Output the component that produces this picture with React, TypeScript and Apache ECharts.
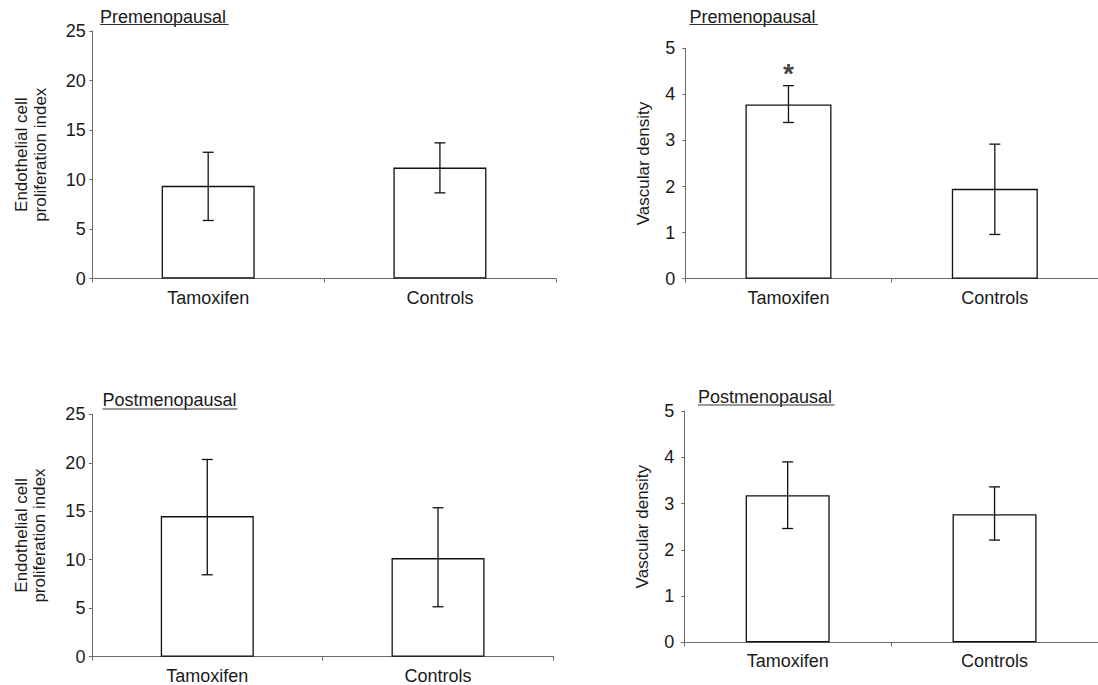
import React, { useEffect, useRef } from "react";
import * as echarts from "echarts";

// ---- data ----
const categories = ["Tamoxifen", "Controls"];

const preProlifMean = [9.36, 11.2];
const preProlifLow = [5.86, 8.65];
const preProlifHigh = [12.75, 13.7];

const preVascMean = [3.78, 1.95];
const preVascLow = [3.39, 0.96];
const preVascHigh = [4.19, 2.92];

const postProlifMean = [14.5, 10.17];
const postProlifLow = [8.45, 5.15];
const postProlifHigh = [20.34, 15.36];

const postVascMean = [3.18, 2.77];
const postVascLow = [2.46, 2.21];
const postVascHigh = [3.9, 3.36];

const preVascSignificance = ["*", ""];

const prolifTicks = { min: 0, max: 25, interval: 5 };
const vascTicks = { min: 0, max: 5, interval: 1 };

const prolifName = "Endothelial cell\nproliferation index";
const vascName = "Vascular density";
const preTitle = "Premenopausal";
const postTitle = "Postmenopausal";

const FONT = '"Liberation Sans", Arial, Helvetica, sans-serif';
const TEXT = "#1a1a1a";
const AXIS = "#6a6a6a";

const errorRender = (params: any, api: any) => {
  const x = api.value(0);
  const lo = api.coord([x, api.value(1)]);
  const hi = api.coord([x, api.value(2)]);
  const hw = 5.5;
  const st = { stroke: "#111", lineWidth: 1.3 };
  return {
    type: "group",
    children: [
      { type: "line", shape: { x1: lo[0], y1: lo[1], x2: hi[0], y2: hi[1] }, style: st },
      { type: "line", shape: { x1: lo[0] - hw, y1: lo[1], x2: lo[0] + hw, y2: lo[1] }, style: st },
      { type: "line", shape: { x1: hi[0] - hw, y1: hi[1], x2: hi[0] + hw, y2: hi[1] }, style: st },
    ],
  };
};

export default function App() {
  const ref = useRef<HTMLDivElement>(null);
  useEffect(() => {
    if (!ref.current) return;
    const chart = echarts.init(ref.current, null, { renderer: "svg" });

    const grids = [
      { left: 92.3, top: 31, width: 463.5, height: 247.5 },
      { left: 685.3, top: 48.3, width: 430, height: 230.4 },
      { left: 91.9, top: 414.3, width: 461.5, height: 242.4 },
      { left: 684.2, top: 411, width: 422, height: 231.3 },
    ];
    const barWidths = [93, 86, 93, 84];
    const nameGaps = [43, 33, 43, 32];
    const labelMargins = [6.5, 10, 6.5, 10];
    const names = [prolifName, vascName, prolifName, vascName];
    const ticks = [prolifTicks, vascTicks, prolifTicks, vascTicks];
    const means = [preProlifMean, preVascMean, postProlifMean, postVascMean];
    const lows = [preProlifLow, preVascLow, postProlifLow, postVascLow];
    const highs = [preProlifHigh, preVascHigh, postProlifHigh, postVascHigh];

    const xAxis = grids.map((_, i) => ({
      type: "category",
      gridIndex: i,
      data: categories,
      axisLine: { lineStyle: { color: AXIS, width: 1 } },
      axisTick: { show: true, length: 4, lineStyle: { color: AXIS } },
      axisLabel: { margin: 10, fontSize: 18, fontFamily: FONT, color: TEXT },
    }));
    const yAxis = grids.map((_, i) => ({
      type: "value",
      gridIndex: i,
      min: ticks[i].min,
      max: ticks[i].max,
      interval: ticks[i].interval,
      name: names[i],
      nameLocation: "middle",
      nameRotate: 90,
      nameGap: nameGaps[i],
      nameTextStyle: { fontSize: 17, fontFamily: FONT, color: TEXT, lineHeight: 18.5 },
      splitLine: { show: false },
      axisLine: { show: true, lineStyle: { color: AXIS, width: 1 } },
      axisTick: { show: true, length: 3, lineStyle: { color: AXIS } },
      axisLabel: { margin: labelMargins[i], fontSize: 18, fontFamily: FONT, color: TEXT },
    }));

    const series: any[] = [];
    grids.forEach((_, i) => {
      series.push({
        type: "bar",
        xAxisIndex: i,
        yAxisIndex: i,
        data: means[i],
        barWidth: barWidths[i],
        itemStyle: { color: "#fff", borderColor: "#111", borderWidth: 1.3 },
      });
      series.push({
        type: "custom",
        xAxisIndex: i,
        yAxisIndex: i,
        renderItem: errorRender,
        encode: { x: 0, y: [1, 2] },
        data: categories.map((_, k) => [k, lows[i][k], highs[i][k]]),
        z: 10,
      });
    });
    series.push({
      type: "scatter",
      xAxisIndex: 1,
      yAxisIndex: 1,
      symbolSize: 0,
      data: preVascSignificance
        .map((s, k) => ({ value: [k, preVascHigh[k]], mark: s }))
        .filter((d) => d.mark),
      label: {
        show: true,
        formatter: () => "*",
        position: "inside",
        offset: [0, -12],
        fontSize: 28,
        fontWeight: "bold",
        fontFamily: FONT,
        color: "#111",
      },
      z: 11,
    });

    const titleDefs = [
      { text: preTitle, x: 100, y: 16.5, ux2: 228.6, uy: 24.5 },
      { text: preTitle, x: 689.4, y: 16.5, ux2: 818, uy: 24.5 },
      { text: postTitle, x: 102.5, y: 400, ux2: 237.5, uy: 409 },
      { text: postTitle, x: 698, y: 396.5, ux2: 834.5, uy: 405 },
    ];
    const graphic: any[] = [];
    titleDefs.forEach((t) => {
      graphic.push({
        type: "text",
        x: t.x,
        y: t.y,
        style: {
          text: t.text,
          fontSize: 18,
          fontFamily: FONT,
          fill: TEXT,
          verticalAlign: "middle",
          align: "left",
        },
      });
      graphic.push({
        type: "line",
        shape: { x1: t.x, y1: t.uy, x2: t.ux2, y2: t.uy },
        style: { stroke: "#333", lineWidth: 1.2 },
      });
    });

    chart.setOption({
      animation: false,
      backgroundColor: "#fff",
      grid: grids,
      xAxis,
      yAxis,
      series,
      graphic,
    });
    return () => chart.dispose();
  }, []);
  return (
    <div
      ref={ref}
      style={{ position: "fixed", left: 0, top: 0, width: 1098, height: 685, background: "#fff" }}
    />
  );
}
